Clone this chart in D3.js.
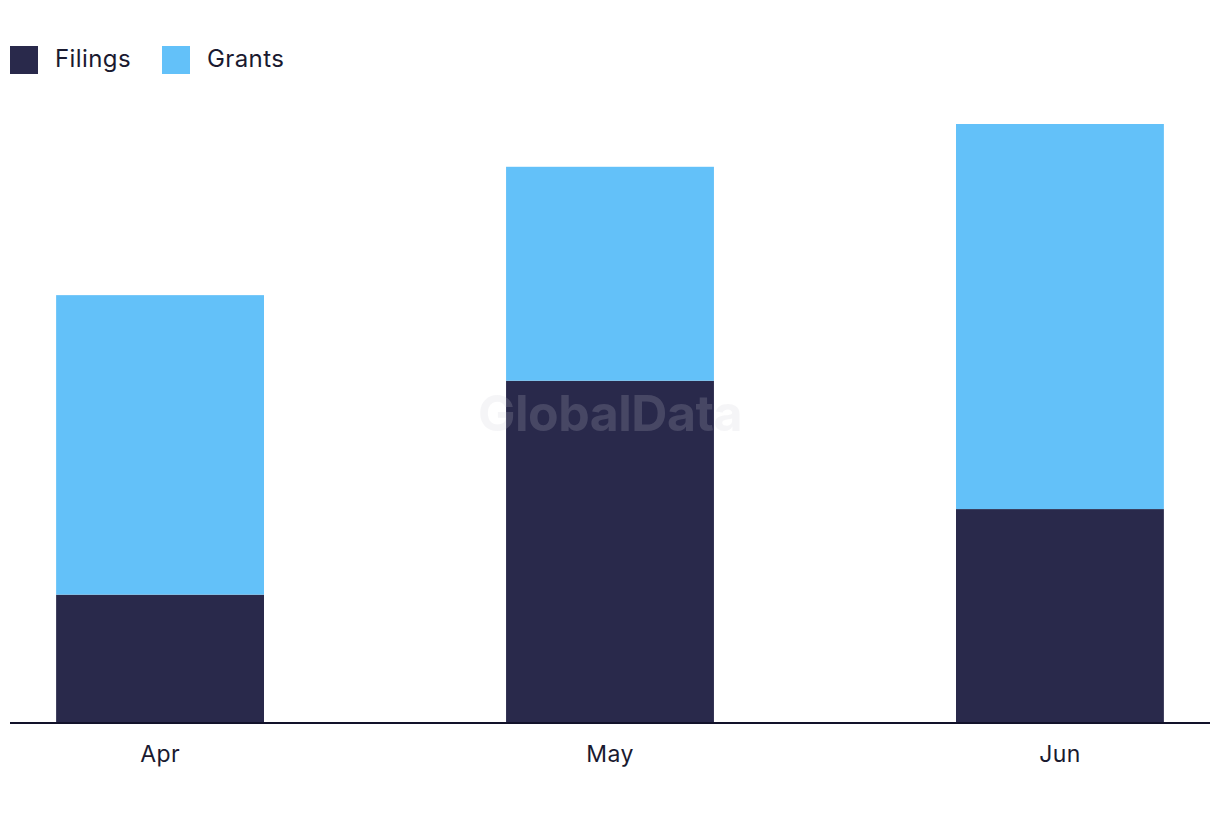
<!DOCTYPE html>
<html><head><meta charset="utf-8">
<script src="https://cdn.jsdelivr.net/npm/d3@7"></script>
<style>body{margin:0;background:#fff}svg{display:block}</style>
</head><body>
<svg id="c" width="1220" height="822"></svg>
<script>
const months = ["Apr", "May", "Jun"];
const filings = [6, 16, 10];
const grants = [14, 10, 18];
const seriesNames = ["Filings", "Grants"];
const colors = ["#29294b", "#63c1f9"];

const svg = d3.select("#c");
const baseY = 723, topY = 124;
const FONT = "Inter, 'Liberation Sans', sans-serif";

const rows = months.map((m, i) => ({month: m, Filings: filings[i], Grants: grants[i]}));
const stack = d3.stack().keys(seriesNames)(rows);

const x = d3.scaleBand().domain(months).range([10, 1210]).paddingInner(0.538).paddingOuter(0.1025);
const maxTotal = d3.max(rows, d => d.Filings + d.Grants);
const y = d3.scaleLinear().domain([0, maxTotal]).range([baseY, topY]);

svg.append("g").selectAll("g").data(stack).join("g")
  .attr("fill", (d, i) => colors[i])
  .selectAll("rect").data(d => d).join("rect")
  .attr("x", d => x(d.data.month))
  .attr("width", x.bandwidth())
  .attr("y", d => y(d[1]))
  .attr("height", d => y(d[0]) - y(d[1]));

// watermark
svg.append("text").attr("x", 610).attr("y", 431).attr("text-anchor", "middle")
  .attr("font-family", FONT).attr("font-weight", 700)
  .attr("font-size", 50).attr("fill", "rgba(203,203,212,0.19)").attr("letter-spacing", -0.5)
  .text("GlobalData");

// axis
const ax = svg.append("g").attr("transform", `translate(0,${baseY})`)
  .call(d3.axisBottom(x).tickSize(0).tickPadding(23));
ax.select(".domain").attr("stroke", "#12122a").attr("stroke-width", 2).attr("d", "M10,0H1210");
ax.selectAll("text").attr("font-family", FONT)
  .attr("font-size", 23).attr("fill", "#1a1a30").attr("letter-spacing", 0.4);

// legend
const lg = svg.append("g");
const lx = [10, 162];
seriesNames.forEach((n, i) => {
  lg.append("rect").attr("x", lx[i]).attr("y", 46).attr("width", 28).attr("height", 28).attr("fill", colors[i]);
  lg.append("text").attr("x", lx[i] + 45).attr("y", 67).attr("font-family", FONT)
    .attr("font-size", 24).attr("fill", "#1a1a30").attr("letter-spacing", 0.4).text(n);
});
</script>
</body></html>
